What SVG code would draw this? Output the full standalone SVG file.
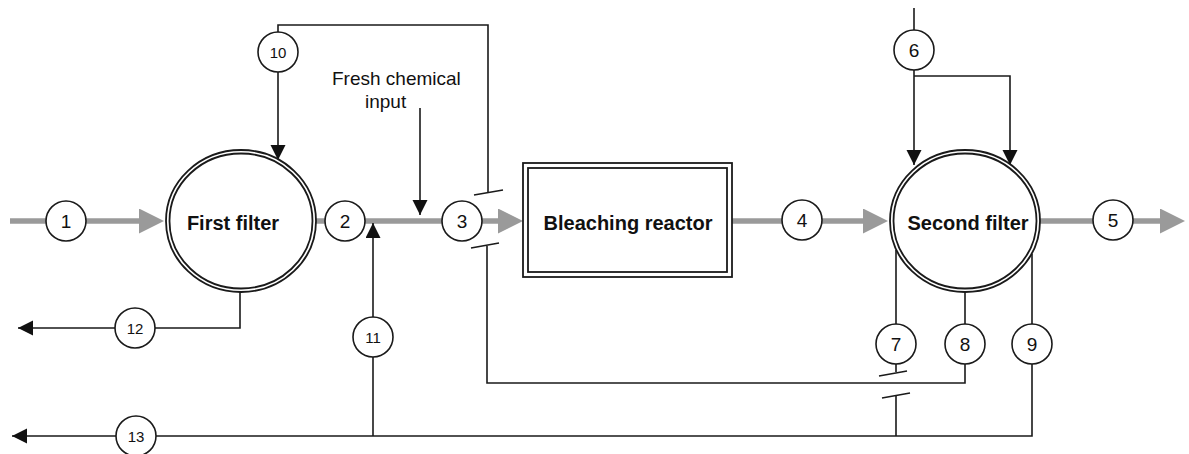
<svg xmlns="http://www.w3.org/2000/svg" width="1189" height="454" viewBox="0 0 1189 454">
<style>
.flow{fill:none;stroke:#9a9a9a;stroke-width:5.5}
.ln{fill:none;stroke:#1a1a1a;stroke-width:1.6}
.nc{fill:#fff;stroke:#1a1a1a;stroke-width:1.6}
.unit{fill:#fff;stroke:#1a1a1a;stroke-width:1.8}
.num{font-family:"Liberation Sans",Arial,sans-serif;font-size:19px;fill:#111;text-anchor:middle}
.num2{font-family:"Liberation Sans",Arial,sans-serif;font-size:15px;fill:#111;text-anchor:middle}
.lbl{font-family:"Liberation Sans",Arial,sans-serif;font-size:20px;font-weight:bold;fill:#111;text-anchor:middle}
.txt{font-family:"Liberation Sans",Arial,sans-serif;font-size:19px;fill:#111}
</style>
<defs>
<marker id="ga" markerUnits="userSpaceOnUse" markerWidth="26" markerHeight="26" refX="0" refY="12.5" orient="auto">
<path d="M0,0 L25,12.5 L0,25 Z" fill="#9a9a9a"/>
</marker>
<marker id="ba" markerUnits="userSpaceOnUse" markerWidth="16" markerHeight="16" refX="15" refY="7.5" orient="auto">
<path d="M0,0 L15,7.5 L0,15 Z" fill="#111"/>
</marker>
</defs>
<rect width="1189" height="454" fill="#fff"/>
<g id="connectors">
<path class="flow" d="M10,221 H139" marker-end="url(#ga)"/>
<path class="flow" d="M316,221 H498" marker-end="url(#ga)"/>
<path class="flow" d="M732,221 H863" marker-end="url(#ga)"/>
<path class="flow" d="M1040,221 H1160" marker-end="url(#ga)"/>
<path class="ln" d="M488,193 V25 H278 V160" marker-end="url(#ba)"/>
<path class="ln" d="M420,108 V215" marker-end="url(#ba)"/>
<path class="ln" d="M965,292 V383 H487 V246"/>
<path class="ln" d="M474,195 L503,190 M471,248 L499,243 M879,376 L907,371 M882,398 L910,393"/>
<path class="ln" d="M896,250 V372 M896,396 V436"/>
<path class="ln" d="M1032,254 V436 H12" marker-end="url(#ba)"/>
<path class="ln" d="M373,436 V223" marker-end="url(#ba)"/>
<path class="ln" d="M240,292 V328 H18" marker-end="url(#ba)"/>
<path class="ln" d="M914,8 V165" marker-end="url(#ba)"/>
<path class="ln" d="M914,76 H1010 V165" marker-end="url(#ba)"/>
</g>
<g id="first-filter">
<ellipse class="unit" cx="241" cy="221" rx="75" ry="71"/>
<ellipse class="unit" cx="241" cy="221" rx="71.5" ry="67.5"/>
<text class="lbl" x="233" y="230">First filter</text>
</g>
<g id="bleaching-reactor">
<rect class="unit" x="523" y="163" width="209" height="114"/>
<rect class="unit" x="528" y="168" width="199" height="104"/>
<text class="lbl" x="628" y="230">Bleaching reactor</text>
</g>
<g id="second-filter">
<ellipse class="unit" cx="965" cy="221" rx="75" ry="71"/>
<ellipse class="unit" cx="965" cy="221" rx="71.5" ry="67.5"/>
<text class="lbl" x="968" y="230">Second filter</text>
</g>
<g id="fresh-chemical-input">
<text class="txt" x="332" y="85">Fresh chemical</text>
<text class="txt" x="365" y="108">input</text>
</g>
<g id="s1"><circle class="nc" cx="66" cy="221" r="20"/><text class="num" x="66" y="228">1</text></g>
<g id="s2"><circle class="nc" cx="345" cy="221" r="20"/><text class="num" x="345" y="228">2</text></g>
<g id="s3"><circle class="nc" cx="462" cy="221" r="20"/><text class="num" x="462" y="228">3</text></g>
<g id="s4"><circle class="nc" cx="802" cy="220" r="20"/><text class="num" x="802" y="227">4</text></g>
<g id="s5"><circle class="nc" cx="1113" cy="220" r="20"/><text class="num" x="1113" y="227">5</text></g>
<g id="s6"><circle class="nc" cx="914" cy="50" r="20"/><text class="num" x="914" y="57">6</text></g>
<g id="s7"><circle class="nc" cx="896" cy="344" r="20"/><text class="num" x="896" y="351">7</text></g>
<g id="s8"><circle class="nc" cx="965" cy="344" r="20"/><text class="num" x="965" y="351">8</text></g>
<g id="s9"><circle class="nc" cx="1032" cy="344" r="20"/><text class="num" x="1032" y="351">9</text></g>
<g id="s10"><circle class="nc" cx="278" cy="52" r="20"/><text class="num2" x="278" y="57.5">10</text></g>
<g id="s11"><circle class="nc" cx="373" cy="337" r="20"/><text class="num2" x="373" y="342.5">11</text></g>
<g id="s12"><circle class="nc" cx="135" cy="328" r="20"/><text class="num2" x="135" y="333.5">12</text></g>
<g id="s13"><circle class="nc" cx="136" cy="436" r="20"/><text class="num2" x="136" y="441.5">13</text></g>
</svg>
